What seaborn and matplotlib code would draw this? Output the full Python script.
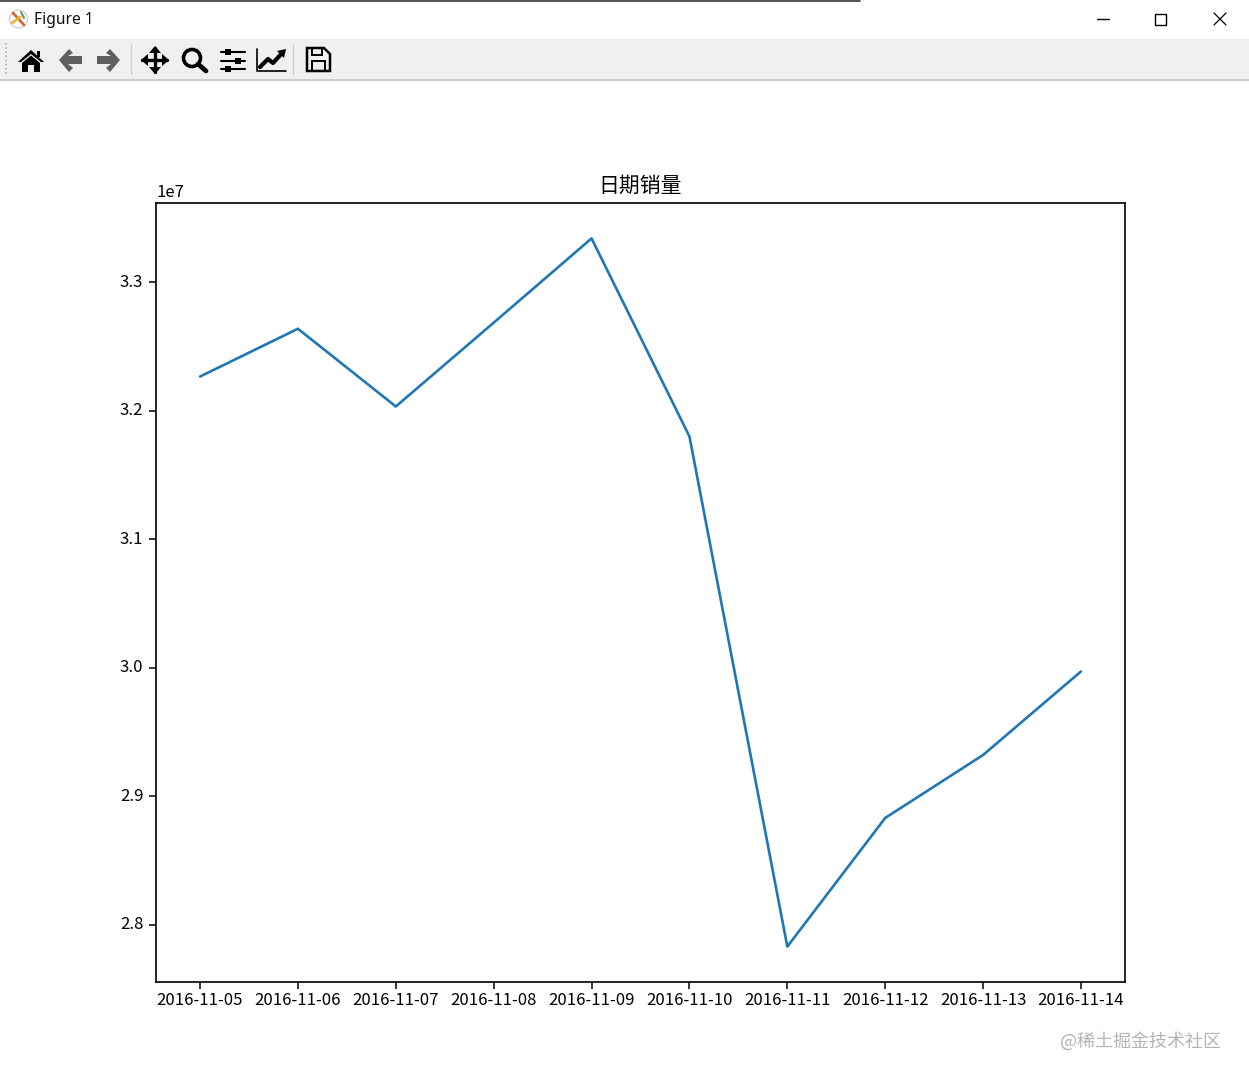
import matplotlib
matplotlib.use("Agg")
import matplotlib.pyplot as plt
import pandas as pd
import seaborn as sns
from matplotlib.patches import Circle, Polygon, Rectangle
from matplotlib.transforms import ScaledTranslation

dates = ["2016-11-05", "2016-11-06", "2016-11-07", "2016-11-08", "2016-11-09",
         "2016-11-10", "2016-11-11", "2016-11-12", "2016-11-13", "2016-11-14"]
sales = [32265000, 32637000, 32032000, 32684000, 33340000,
         31799000, 27829000, 28830000, 29320000, 29970000]

W, H = 1249, 1080

sns.set_style("ticks")
plt.rcParams["font.family"] = ["Noto Sans CJK SC", "DejaVu Sans"]
plt.rcParams["axes.edgecolor"] = "black"
plt.rcParams["xtick.color"] = "black"
plt.rcParams["ytick.color"] = "black"
plt.rcParams["text.color"] = "black"
plt.rcParams["axes.linewidth"] = 1.2

fig = plt.figure(figsize=(W / 100, H / 100), dpi=100)

# 主图
ax = fig.add_axes([156 / W, 1 - 982 / H, (1125 - 156) / W, (982 - 203) / H])
df = pd.DataFrame({"date": dates, "sales": sales})
sns.lineplot(data=df, x="date", y="sales", sort=False, color="#1f77b4", linewidth=1.9, ax=ax)
ax.set_xlabel("")
ax.set_ylabel("")
ax.set_title("日期销量", fontsize=15, pad=8)
ax.tick_params(axis="x", labelsize=12.1, length=5, width=1.1, pad=2.5)
ax.tick_params(axis="y", labelsize=12.1, length=5, width=1.1, pad=4)

# 字体基线比原图低一点，整体抬 2px
lift = ScaledTranslation(0, 2 / 100, fig.dpi_scale_trans)
off = ax.yaxis.get_offset_text()
off.set_fontsize(12)
off.set_transform(off.get_transform() + lift)
fig.canvas.draw()
for label in ax.get_yticklabels():
    label.set_transform(label.get_transform() + lift)


def overlay():
    # 窗口外框用像素坐标的透明层来画
    o = fig.add_axes([0, 0, 1, 1], zorder=5)
    o.set_xlim(0, W)
    o.set_ylim(H, 0)
    o.axis("off")
    return o


def draw_window(o):
    o.plot([0, 860], [0.5, 0.5], color="#333333", lw=1.2)
    o.add_patch(Rectangle((0, 39), W, 40, color="#f0f0f0", lw=0))
    o.plot([0, W], [79.5, 79.5], color="#c4c4c4", lw=1.2)
    o.text(34, 20.5, "Figure 1", fontsize=11.2, family=["Noto Sans", "DejaVu Sans"], va="center", color="#111111")

    # 窗口图标
    o.add_patch(Circle((18.5, 19), 9, fc="white", ec="#c8c8c8", lw=0.8))
    o.plot([13, 24], [13, 25], color="#d9663a", lw=2)
    o.plot([12, 20], [23, 17], color="#e8b43c", lw=2)
    o.plot([21, 24], [12, 18], color="#5a9a5a", lw=1.5)

    # 右上角按钮
    o.plot([1097, 1109], [18.5, 18.5], color="black", lw=1)
    o.add_patch(Rectangle((1155.5, 13.5), 11, 11, fc="none", ec="black", lw=1))
    o.plot([1214, 1226], [13, 25], color="black", lw=0.9)
    o.plot([1214, 1226], [25, 13], color="black", lw=0.9)

    # 工具栏分隔
    for x, c in [(131.5, "#d0d0d0"), (293.5, "#d0d0d0")]:
        o.plot([x, x], [44, 74], color=c, lw=1)
    o.plot([6, 6], [43, 76], color="#b0b0b0", lw=1.2, ls=(0, (1, 1.5)))


def draw_toolbar(o):
    # home
    o.add_patch(Polygon([(18, 62), (31, 50), (44, 62), (41, 62), (31, 54), (21, 62)], color="black", lw=0))
    o.add_patch(Polygon([(22, 63), (31, 55.5), (40, 63), (40, 72), (34, 72), (34, 65), (28, 65), (28, 72), (22, 72)],
                        color="black", lw=0))
    o.add_patch(Rectangle((37, 51), 3, 6, color="black", lw=0))
    # back / forward
    grey = "#5f5f5f"
    o.add_patch(Polygon([(59, 60), (69, 49), (73, 53), (68, 56), (82, 56), (82, 64), (68, 64), (73, 68), (69, 72)],
                        color=grey, lw=0))
    o.add_patch(Polygon([(120, 60), (110, 49), (106, 53), (111, 56), (97, 56), (97, 64), (111, 64), (106, 68), (110, 72)],
                        color=grey, lw=0))
    # move
    o.plot([142, 167], [60, 60], color="black", lw=2.4)
    o.plot([155, 155], [48, 72], color="black", lw=2.4)
    o.add_patch(Polygon([(141, 60), (148, 54), (148, 66)], color="black", lw=0))
    o.add_patch(Polygon([(169, 60), (162, 54), (162, 66)], color="black", lw=0))
    o.add_patch(Polygon([(155, 46), (149, 53), (161, 53)], color="black", lw=0))
    o.add_patch(Polygon([(155, 74), (149, 67), (161, 67)], color="black", lw=0))
    # zoom
    o.add_patch(Circle((192, 58), 8.5, fc="none", ec="black", lw=2.6))
    o.plot([198, 206], [64, 71], color="black", lw=3.4)
    # sliders
    for y, x in [(52, 228), (61, 238), (69, 228)]:
        o.plot([221, 245], [y, y], color="black", lw=1.5)
        o.add_patch(Rectangle((x - 3, y - 3), 6, 6, color="black", lw=0))
    # chart
    o.plot([257, 257, 286], [49, 71, 71], color="black", lw=1.2)
    o.plot([260, 268, 273, 283], [67, 59, 63, 52], color="black", lw=3)
    o.add_patch(Polygon([(286, 49), (277, 51), (284, 58)], color="black", lw=0))
    # save
    o.add_patch(Polygon([(307, 48), (324, 48), (330, 54), (330, 71), (307, 71)], fc="none", ec="black", lw=1.8))
    o.add_patch(Rectangle((312, 48), 10, 7, fc="none", ec="black", lw=1.4))
    o.add_patch(Rectangle((312, 61), 13, 10, fc="none", ec="black", lw=1.4))


o = overlay()
draw_window(o)
draw_toolbar(o)
o.text(1221, 1041, "@稀土掘金技术社区", fontsize=13, color="#b4b4b4", ha="right", va="center")

plt.savefig("out.png", dpi=100)
plt.close()
